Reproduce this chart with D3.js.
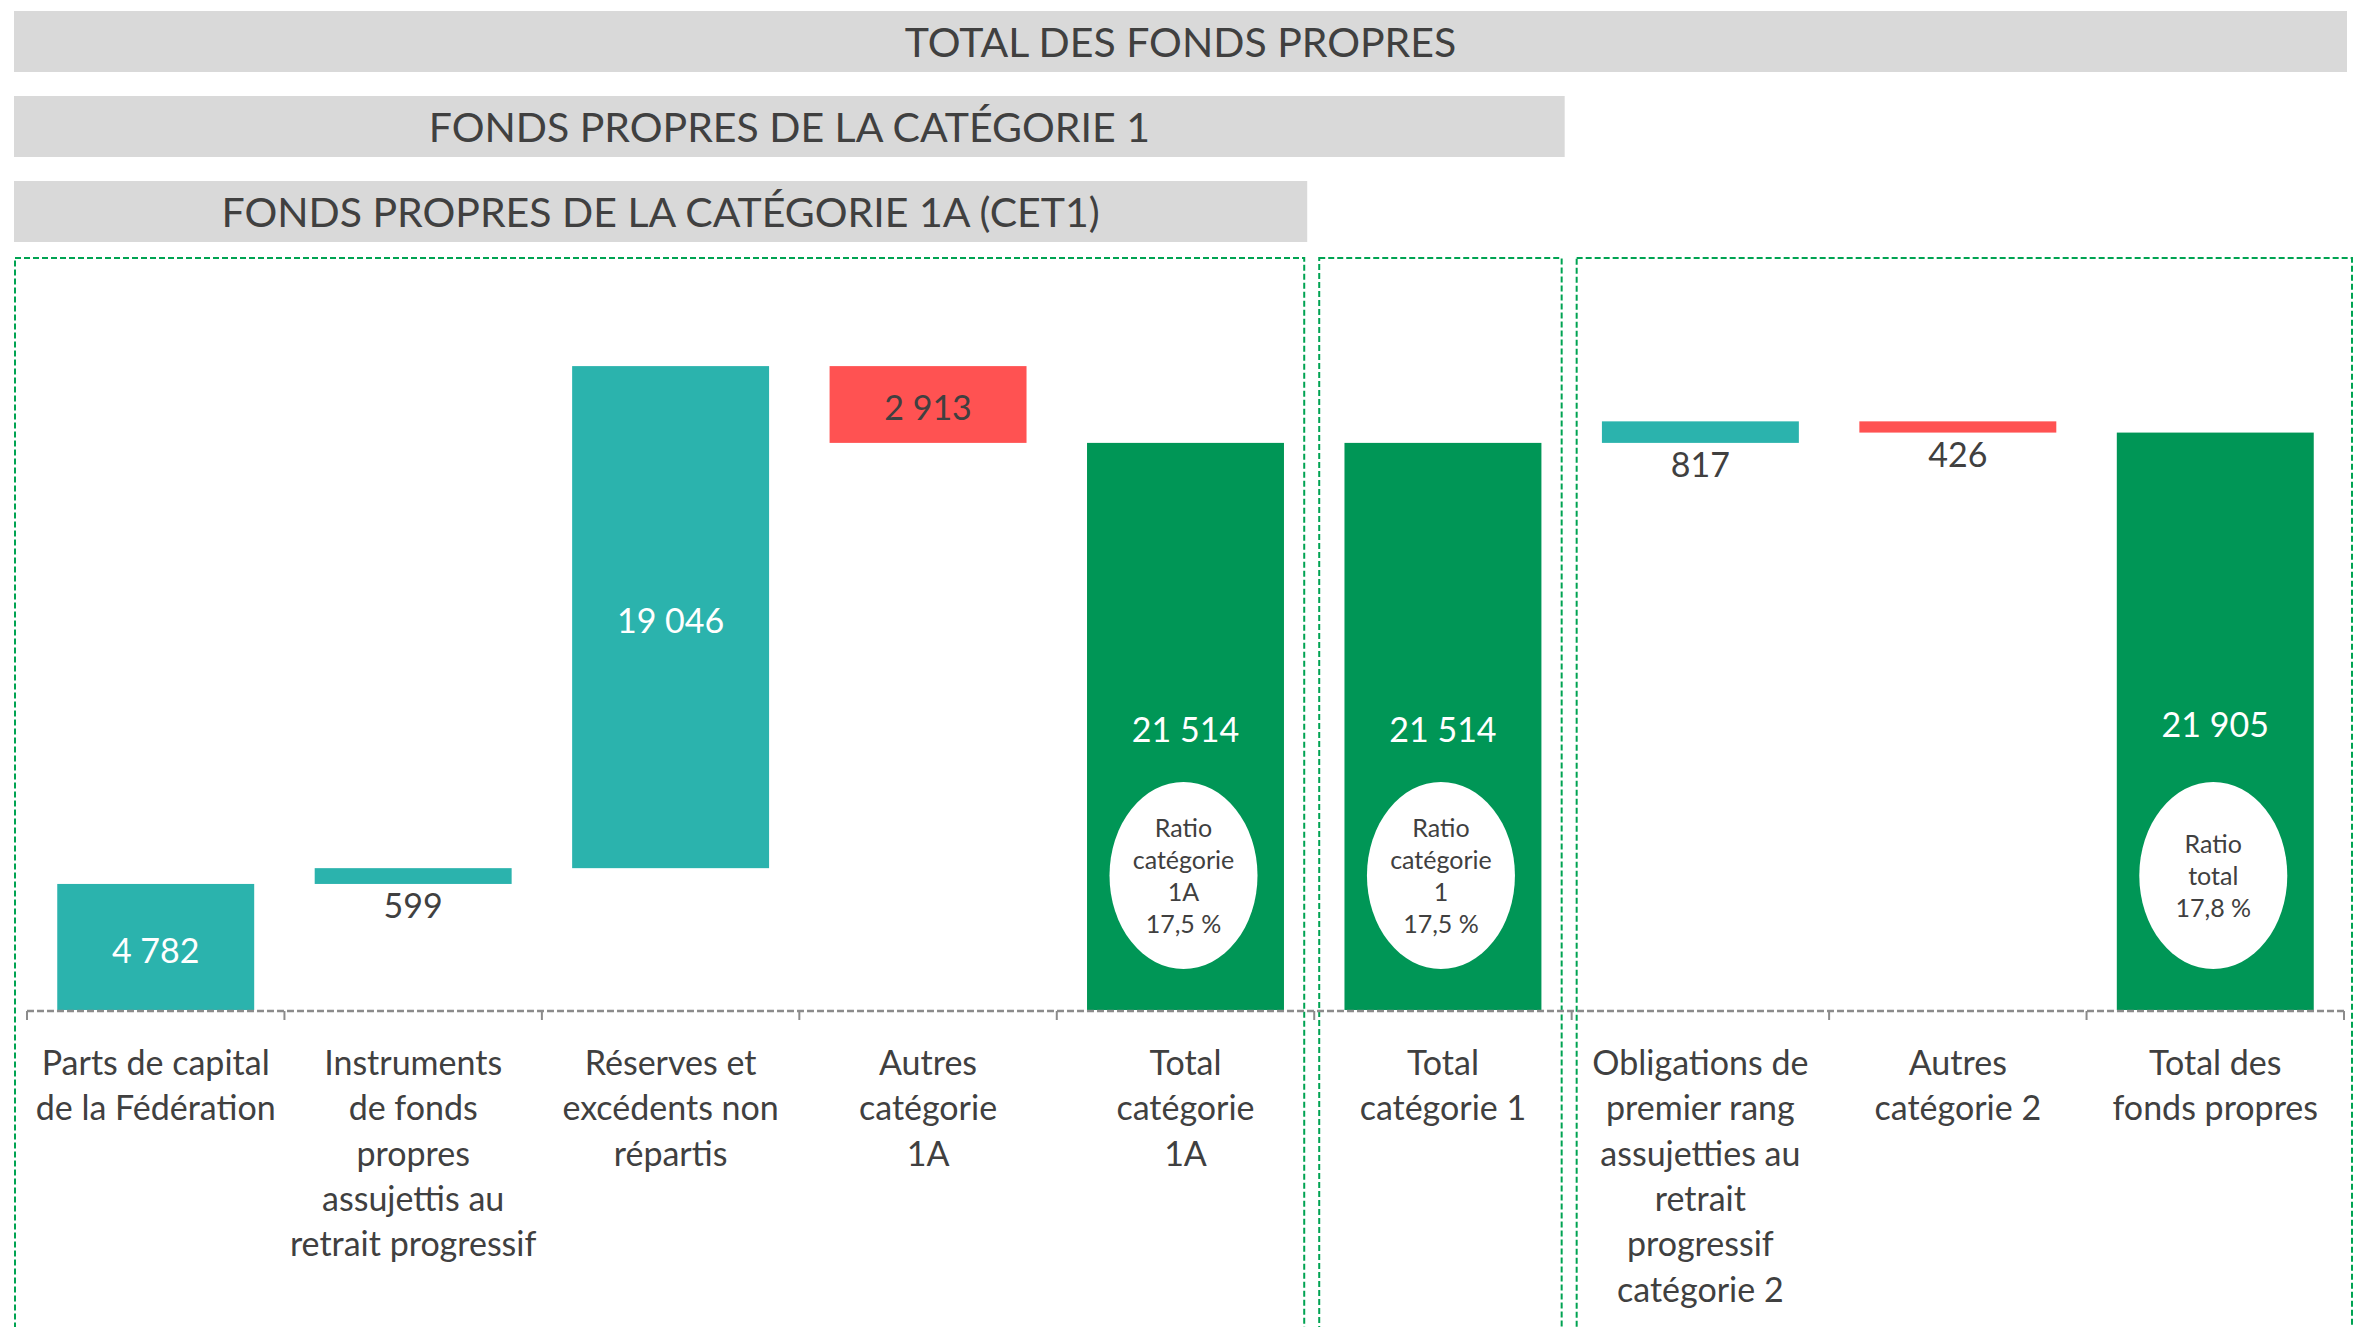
<!DOCTYPE html>
<html><head><meta charset="utf-8">
<script src="https://cdn.jsdelivr.net/npm/d3@7"></script>
<style>body{margin:0;background:#fff}</style>
</head><body>
<svg id="c" width="2356" height="1327"></svg>
<script>
// ---------- data ----------
const categories = [
  ["Parts de capital","de la Fédération"],
  ["Instruments","de fonds","propres","assujettis au","retrait progressif"],
  ["Réserves et","excédents non","répartis"],
  ["Autres","catégorie","1A"],
  ["Total","catégorie","1A"],
  ["Total","catégorie 1"],
  ["Obligations de","premier rang","assujetties au","retrait","progressif","catégorie 2"],
  ["Autres","catégorie 2"],
  ["Total des","fonds propres"]
];
const values = [4782, 599, 19046, -2913, 21514, 21514, 817, -426, 21905];
const kinds  = ["delta","delta","delta","delta","total","total","delta","delta","total"];
const ratioLabels = [null,null,null,null,
  ["Ratio","catégorie","1A","17,5 %"],
  ["Ratio","catégorie","1","17,5 %"],
  null,null,
  ["Ratio","total","17,8 %"]];
const headerTitles = ["TOTAL DES FONDS PROPRES","FONDS PROPRES DE LA CATÉGORIE 1","FONDS PROPRES DE LA CATÉGORIE 1A (CET1)"];
const headerSpans = [[0,8],[0,5],[0,4]];
const groupSpans = [[0,4],[5,5],[6,8]];

// ---------- setup ----------
const svg = d3.select("#c");
const FONT = "Lato, 'Open Sans', sans-serif";
const TXT = "#404040";
const COL = {up:"#2BB3AD", down:"#FF5252", total:"#009656"};
const fr = d3.formatLocale({decimal:",", thousands:"\u00a0", grouping:[3], currency:["","€"]});
const fmt = fr.format(",d");

const x = d3.scaleBand().domain(d3.range(categories.length)).range([27, 2344])
  .paddingInner(0.235).paddingOuter(0.1175);
const y = d3.scaleLinear().domain([0, 25000]).range([1010, 351]);
const step = x.step();
const bound = i => x.range()[0] + i * step;

// waterfall
let run = 0;
const bars = values.map((v, i) => {
  let a, b, kind;
  if (kinds[i] === "total") { a = 0; b = v; run = v; kind = "total"; }
  else { a = run; b = run + v; run = b; kind = v >= 0 ? "up" : "down"; }
  return {i, v, lo: Math.min(a,b), hi: Math.max(a,b), kind};
});

svg.append("rect").attr("width",2356).attr("height",1327).attr("fill","#fff");

// headers
const hdrY = [11, 96, 181], hdrH = 61;
headerSpans.forEach((s, k) => {
  const left = bound(s[0]) - 13;
  const right = s[1] === categories.length - 1 ? bound(s[1] + 1) + 3 : bound(s[1] + 1) - 7;
  svg.append("rect").attr("x", left).attr("y", hdrY[k]).attr("width", right - left).attr("height", hdrH)
    .attr("fill", "#D9D9D9");
  svg.append("text").attr("x", (left + right) / 2).attr("y", hdrY[k] + hdrH / 2 + 15.5)
    .attr("text-anchor","middle").attr("font-family",FONT).attr("font-size",41)
    .attr("fill",TXT).text(headerTitles[k]);
});

// group boxes
groupSpans.forEach((s, k) => {
  const left = k === 0 ? bound(s[0]) - 12 : bound(s[0]) + 5;
  const right = s[1] === categories.length - 1 ? bound(s[1] + 1) + 8 : bound(s[1] + 1) - 10;
  svg.append("rect").attr("x", left).attr("y", 258).attr("width", right - left).attr("height", 1100)
    .attr("fill","none").attr("stroke","#00A352").attr("stroke-width",2).attr("stroke-dasharray","6,3");
});

// bars
svg.append("g").selectAll("rect").data(bars).join("rect")
  .attr("x", d => x(d.i)).attr("width", x.bandwidth())
  .attr("y", d => y(d.hi)).attr("height", d => y(d.lo) - y(d.hi))
  .attr("fill", d => COL[d.kind]);

// axis line + ticks
const axisY = 1011;
svg.append("line").attr("x1", bound(0)).attr("x2", bound(categories.length)).attr("y1", axisY).attr("y2", axisY)
  .attr("stroke","#8C8C8C").attr("stroke-width",2.5).attr("stroke-dasharray","7,3");
svg.append("g").selectAll("line").data(d3.range(categories.length + 1)).join("line")
  .attr("x1", i => bound(i)).attr("x2", i => bound(i)).attr("y1", axisY).attr("y2", axisY + 9)
  .attr("stroke","#8C8C8C").attr("stroke-width",2);

// value labels
bars.forEach(d => {
  const h = y(d.lo) - y(d.hi);
  const cx = x(d.i) + x.bandwidth() / 2;
  const inside = h > 40;
  const ty = inside ? (y(d.lo) + y(d.hi)) / 2 + 16 : y(d.lo) + 34;
  const fill = inside ? (d.kind === "down" ? TXT : "#fff") : TXT;
  svg.append("text").attr("x", cx).attr("y", ty).attr("text-anchor","middle")
    .attr("font-family",FONT).attr("font-size",34).attr("fill",fill)
    .text(fmt(Math.abs(d.v)));
});

// ratio ellipses
bars.forEach(d => {
  const lines = ratioLabels[d.i];
  if (!lines) return;
  const cx = x(d.i) + x.bandwidth() / 2 - 2, cy = axisY - 135.5;
  svg.append("ellipse").attr("cx", cx).attr("cy", cy).attr("rx", 74).attr("ry", 93.5).attr("fill","#fff");
  const t = svg.append("text").attr("text-anchor","middle").attr("font-family",FONT)
    .attr("font-size",25).attr("fill",TXT);
  lines.forEach((l, j) => {
    t.append("tspan").attr("x", cx).attr("y", cy + (j - (lines.length - 1) / 2) * 32 + 9).text(l);
  });
});

// category labels
categories.forEach((lines, i) => {
  const cx = x(i) + x.bandwidth() / 2;
  const t = svg.append("text").attr("text-anchor","middle").attr("font-family",FONT)
    .attr("font-size",34).attr("fill",TXT);
  lines.forEach((l, j) => t.append("tspan").attr("x", cx).attr("y", 1075 + j * 45.3).text(l));
});
</script>
</body></html>
